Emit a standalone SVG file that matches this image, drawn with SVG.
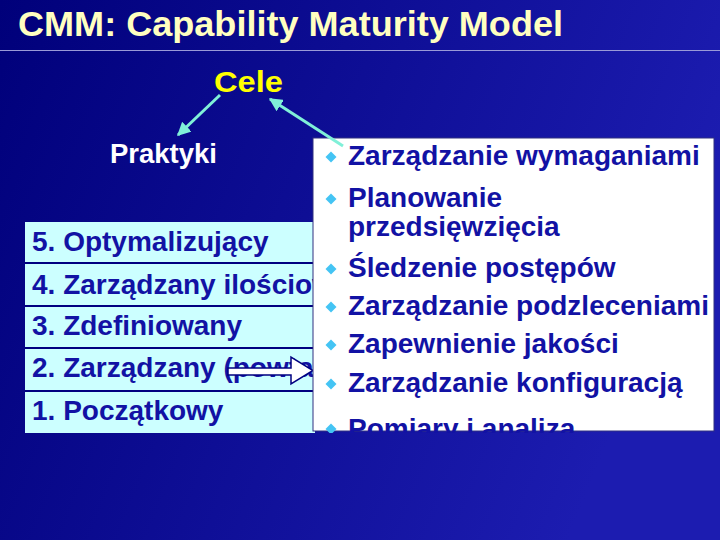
<svg xmlns="http://www.w3.org/2000/svg" width="720" height="540" viewBox="0 0 720 540">
<defs>
<linearGradient id="bg" x1="0" y1="0" x2="1" y2="0.3">
<stop offset="0" stop-color="#00007a"/>
<stop offset="1" stop-color="#1c1cb0"/>
</linearGradient>
<marker id="ah" viewBox="0 0 10 10" refX="9" refY="5" markerWidth="4.5" markerHeight="4.5" orient="auto" markerUnits="strokeWidth">
<path d="M0,0 L10,5 L0,10 z" fill="#80f0d8"/>
</marker>
<clipPath id="boxclip"><rect x="313" y="138" width="401" height="295"/></clipPath>
<clipPath id="rowclip"><rect x="25" y="222" width="288" height="211"/></clipPath>
<symbol id="dia" viewBox="-6 -6 12 12" overflow="visible"><path d="M0,-5.5 L5.5,0 L0,5.5 L-5.5,0 z" fill="#44c4f4"/></symbol>
</defs>
<style>
.t{font-family:"Liberation Sans",Arial,sans-serif;font-weight:bold}
.row{font-size:28px;fill:#1212a4}
.bul{font-size:28px;fill:#1212a4}
.div{stroke:#000080;stroke-width:2}
.conn{stroke:#80f0d8;stroke-width:3;fill:none;marker-end:url(#ah)}
</style>
<rect width="720" height="540" fill="url(#bg)"/>
<g id="title">
<text class="t" x="18" y="36" font-size="35" fill="#ffffc0" textLength="545" lengthAdjust="spacingAndGlyphs">CMM: Capability Maturity Model</text>
<line x1="0" y1="50.5" x2="720" y2="50.5" stroke="#9a9ad8" stroke-width="1.2"/>
</g>
<g id="cele"><text class="t" x="214" y="92" font-size="29" fill="#ffff00" textLength="69" lengthAdjust="spacingAndGlyphs">Cele</text></g>
<g id="praktyki"><text class="t" x="110" y="163" font-size="27" fill="#ffffff" textLength="107" lengthAdjust="spacingAndGlyphs">Praktyki</text></g>
<g id="levels">
<rect x="25" y="222" width="290" height="211" fill="#ccffff"/>
<line class="div" x1="25" y1="263" x2="313" y2="263"/>
<line class="div" x1="25" y1="306" x2="313" y2="306"/>
<line class="div" x1="25" y1="348" x2="313" y2="348"/>
<line class="div" x1="25" y1="391" x2="313" y2="391"/>
<g clip-path="url(#rowclip)">
<text class="t row" x="32" y="251">5. Optymalizujący</text>
<text class="t row" x="32" y="294">4. Zarządzany ilościowo</text>
<text class="t row" x="32" y="335">3. Zdefiniowany</text>
<text class="t row" x="32" y="377">2. Zarządzany (powtarzalny)</text>
<text class="t row" x="32" y="420">1. Początkowy</text>
</g>
</g>
<g id="arrow-block">
<polygon points="228,368 291,368 291,357 313,370.5 291,384 291,375 228,375" fill="#ffffff" stroke="#000080" stroke-width="1.5"/>
</g>
<g id="practices">
<rect x="313" y="138" width="401" height="293" fill="#ffffff" stroke="#303080" stroke-width="1"/>
<g clip-path="url(#boxclip)">
<use href="#dia" x="325" y="151" width="12" height="12"/>
<text class="t bul" x="348" y="165">Zarządzanie wymaganiami</text>
<use href="#dia" x="325" y="193" width="12" height="12"/>
<text class="t bul" x="348" y="207">Planowanie</text>
<text class="t bul" x="348" y="236">przedsięwzięcia</text>
<use href="#dia" x="325" y="263" width="12" height="12"/>
<text class="t bul" x="348" y="277">Śledzenie postępów</text>
<use href="#dia" x="325" y="301" width="12" height="12"/>
<text class="t bul" x="348" y="315">Zarządzanie podzleceniami</text>
<use href="#dia" x="325" y="339" width="12" height="12"/>
<text class="t bul" x="348" y="353">Zapewnienie jakości</text>
<use href="#dia" x="325" y="378" width="12" height="12"/>
<text class="t bul" x="348" y="392">Zarządzanie konfiguracją</text>
<use href="#dia" x="325" y="423" width="12" height="12"/>
<text class="t bul" x="348" y="438">Pomiary i analiza</text>
</g>
</g>
<g id="connectors">
<line class="conn" x1="220" y1="95" x2="178" y2="135"/>
<line class="conn" x1="343" y1="146" x2="270" y2="99"/>
</g>
</svg>
